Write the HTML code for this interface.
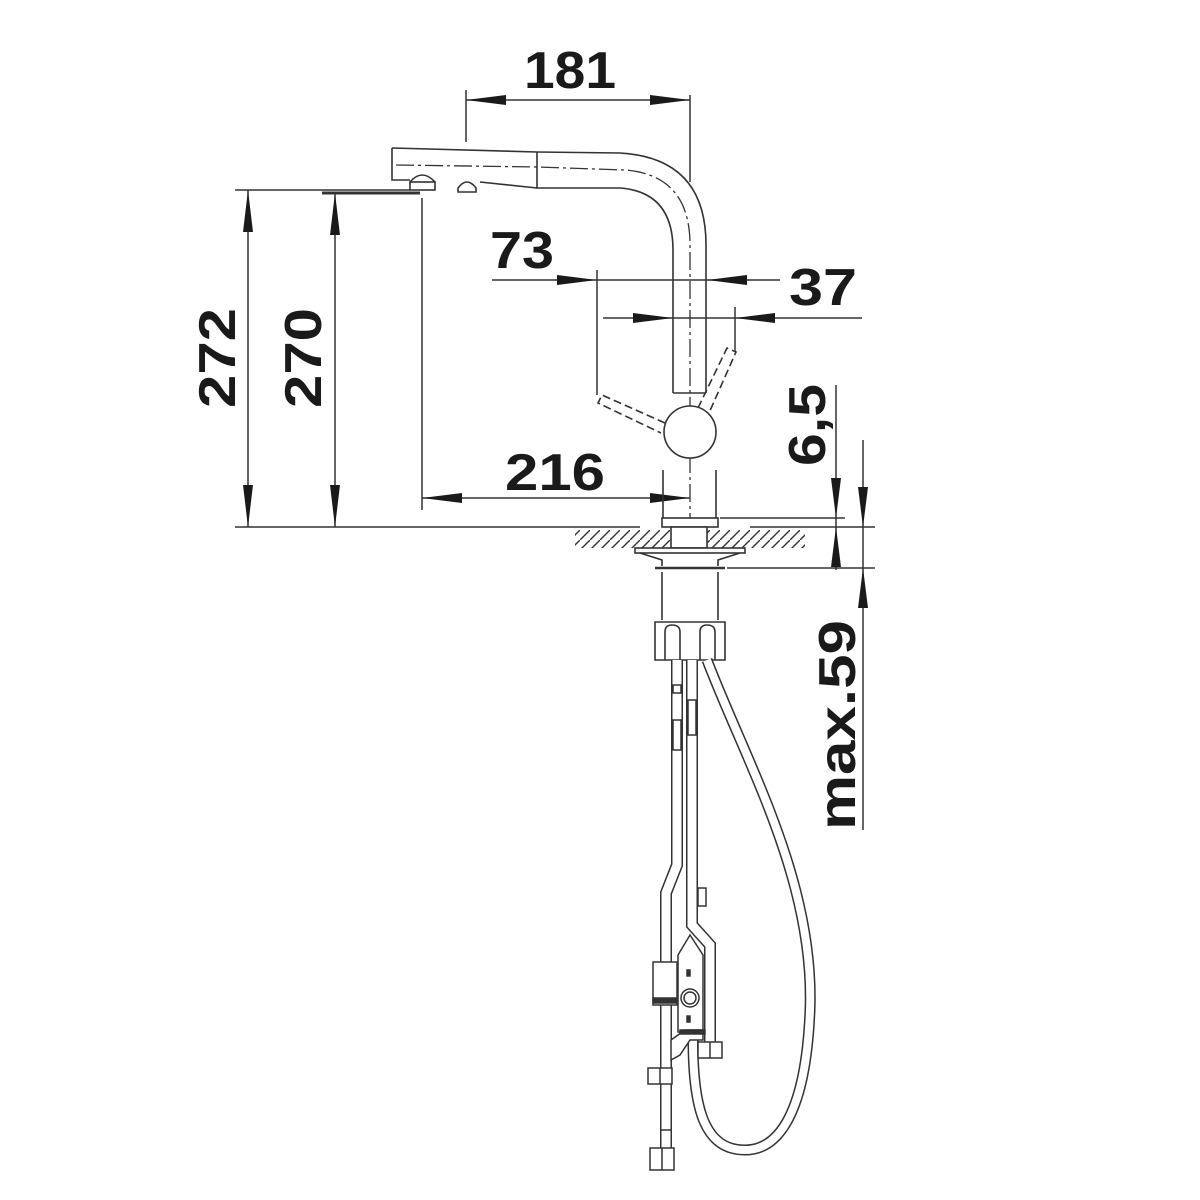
<!DOCTYPE html>
<html><head><meta charset="utf-8"><style>
html,body{margin:0;padding:0;background:#fff;}
svg{display:block}
text{font-family:"Liberation Sans",Arial,sans-serif;font-weight:bold;fill:#1a1a1a;}
</style></head><body>
<svg width="1200" height="1200" viewBox="0 0 1200 1200" xmlns="http://www.w3.org/2000/svg">
<defs>
<pattern id="h" width="10" height="10" patternUnits="userSpaceOnUse">
<line x1="0" y1="10" x2="10" y2="0" stroke="#333" stroke-width="1.4"/>
</pattern>
</defs>
<g stroke="#333" stroke-width="1.5" fill="none">
<!-- 181 dim -->
<line x1="466" y1="90" x2="466" y2="142"/>
<line x1="690" y1="95" x2="690" y2="182"/>
<line x1="466" y1="100" x2="690" y2="100"/>
<!-- 272/270 -->
<line x1="235" y1="190" x2="410" y2="190"/>
<line x1="322" y1="193" x2="420" y2="193" stroke-width="3"/>
<line x1="248" y1="190" x2="248" y2="527"/>
<line x1="335" y1="193" x2="335" y2="527"/>
<line x1="235" y1="527" x2="640" y2="527"/>
<!-- 216 -->
<line x1="422" y1="198" x2="422" y2="510"/>
<line x1="422" y1="498" x2="690" y2="498"/>
<!-- 73 -->
<line x1="492" y1="280" x2="780" y2="280"/>
<line x1="597" y1="270" x2="597" y2="395"/>
<!-- 37 -->
<line x1="603" y1="318" x2="862" y2="318"/>
<line x1="735" y1="307" x2="735" y2="352"/>
<!-- right dims -->
<line x1="836" y1="385" x2="836" y2="570"/>
<line x1="863" y1="440" x2="863" y2="830"/>
<line x1="720" y1="518" x2="845" y2="518"/>
<line x1="750" y1="527" x2="875" y2="527"/>
<line x1="727" y1="568" x2="875" y2="568"/>
</g>
<g fill="#1a1a1a">
<!-- arrows -->
<polygon points="466,100 506,95 506,105"/>
<polygon points="690,100 650,95 650,105"/>
<polygon points="248,190 243,232 253,232"/>
<polygon points="248,527 243,485 253,485"/>
<polygon points="335,193 330,235 340,235"/>
<polygon points="335,527 330,485 340,485"/>
<polygon points="422,498 462,493 462,503"/>
<polygon points="690,498 650,493 650,503"/>
<polygon points="597,280 557,275 557,285"/>
<polygon points="707,280 747,275 747,285"/>
<polygon points="673,318 633,313 633,323"/>
<polygon points="735,318 775,313 775,323"/>
<polygon points="836,518 831,478 841,478"/>
<polygon points="836,527 831,567 841,567"/>
<polygon points="863,527 858,487 868,487"/>
<polygon points="863,568 858,608 868,608"/>
</g>
<!-- faucet -->
<g stroke="#333" stroke-width="1.6" fill="none">
<path d="M392,148 L537,152 L620,153 Q706,158 706,245 L706,393"/>
<path d="M392,148 L392,180 L410,180"/>
<path d="M537,152 L537,188 L620,188 Q673,192 673,250 L673,393"/>
<path d="M480,182 L537,188"/>
<path d="M410,182 Q422,168 435,182"/>
<rect x="410" y="182" width="25" height="8"/>
<path d="M458,188 Q467,176 476,188 L476,192 L458,192 Z"/>
<path d="M396,165 L537,167 L625,170 Q690,175 690,245 L690,518" stroke-dasharray="18,4,3,4" stroke-width="1.3"/>
<line x1="673" y1="393" x2="706" y2="393"/>
<path d="M663,470 L663,518 M716,470 L716,518"/>
<circle cx="690" cy="432" r="26" fill="#fff"/>
<g stroke-dasharray="8,4">
<path d="M665,423 L602,395 L598,403 L661,433"/>
<path d="M698,408 L727,348 L736,352 L709,413"/>
</g>
<rect x="662" y="518" width="56" height="9"/>
<rect x="575" y="530" width="230" height="18" fill="url(#h)" stroke="none"/>
<rect x="671" y="527" width="36" height="21" fill="#fff"/>
<rect x="635" y="548" width="110" height="5" fill="#fff"/>
<path d="M640,553 L662,560 L662,566 M740,553 L718,560 L718,566"/>
<line x1="655" y1="568" x2="725" y2="568" stroke-width="2.5"/>
<!-- mounting body -->
<path d="M662,572 L662,620 M718,572 L718,620"/>
<path d="M655,622 L725,622 L725,660 L655,660 Z" fill="#fff"/>
<path d="M665,660 L665,632 Q665,625 672,625 Q680,625 680,632 L680,660"/>
<path d="M700,660 L700,632 Q700,625 707,625 Q715,625 715,632 L715,660"/>
</g>
<!-- hose & pipes -->
<g fill="none" stroke-linecap="butt">
<path d="M707,660 C745,760 815,880 810,1010 C806,1110 780,1150 745,1150 C705,1150 693,1110 693,1040" stroke="#333" stroke-width="11"/>
<path d="M707,660 C745,760 815,880 810,1010 C806,1110 780,1150 745,1150 C705,1150 693,1110 693,1040" stroke="#fff" stroke-width="8"/>
<path d="M677,660 L677,865 L666,893 L666,1150" stroke="#333" stroke-width="12"/>
<path d="M677,660 L677,865 L666,893 L666,1150" stroke="#fff" stroke-width="9"/>
<path d="M692,660 L692,925 L710,945 L710,1042" stroke="#333" stroke-width="12"/>
<path d="M692,660 L692,925 L710,945 L710,1042" stroke="#fff" stroke-width="9"/>
</g>
<g stroke="#333" stroke-width="1.5" fill="#fff">
<rect x="673" y="685" width="8" height="8"/>
<rect x="673" y="720" width="8" height="30"/>
<rect x="688" y="700" width="8" height="35"/>
<rect x="698" y="888" width="8" height="18"/>
<path d="M678,955 L690,935 L703,955 L703,1032 L678,1032 Z"/>
<rect x="653" y="962" width="24" height="43"/>
<rect x="653" y="998" width="24" height="5" fill="#333"/>
<circle cx="690" cy="998" r="9"/>
<circle cx="690" cy="998" r="6"/>
<rect x="687" y="970" width="3" height="6" fill="#333"/>
<rect x="687" y="1016" width="3" height="6" fill="#333"/>
<path d="M671,1040 L685,1030 L703,1030 L703,1040 L690,1040 L680,1055 L671,1060 Z"/>
<rect x="680" y="1030" width="25" height="4" fill="#333"/>
<rect x="698" y="1042" width="24" height="16"/>
<line x1="710" y1="1042" x2="710" y2="1058"/>
<rect x="648" y="1068" width="24" height="16"/>
<line x1="660" y1="1068" x2="660" y2="1084"/>
<rect x="650" y="1148" width="24" height="22"/>
<line x1="662" y1="1148" x2="662" y2="1170"/>
<line x1="660" y1="1130" x2="672" y2="1130"/>
</g>
<!-- labels -->
<text x="570" y="88" font-size="52" text-anchor="middle" textLength="92" lengthAdjust="spacingAndGlyphs">181</text>
<text x="522" y="268" font-size="52" text-anchor="middle" textLength="64" lengthAdjust="spacingAndGlyphs">73</text>
<text x="823" y="305" font-size="52" text-anchor="middle" textLength="68" lengthAdjust="spacingAndGlyphs">37</text>
<text x="555" y="490" font-size="52" text-anchor="middle" textLength="100" lengthAdjust="spacingAndGlyphs">216</text>
<text transform="translate(235,358) rotate(-90)" font-size="52" text-anchor="middle" textLength="100" lengthAdjust="spacingAndGlyphs">272</text>
<text transform="translate(321,358) rotate(-90)" font-size="52" text-anchor="middle" textLength="100" lengthAdjust="spacingAndGlyphs">270</text>
<text transform="translate(825,425) rotate(-90)" font-size="52" text-anchor="middle" textLength="82" lengthAdjust="spacingAndGlyphs">6,5</text>
<text transform="translate(855,725) rotate(-90)" font-size="52" text-anchor="middle" textLength="210" lengthAdjust="spacingAndGlyphs">max.59</text>
</svg>
</body></html>
